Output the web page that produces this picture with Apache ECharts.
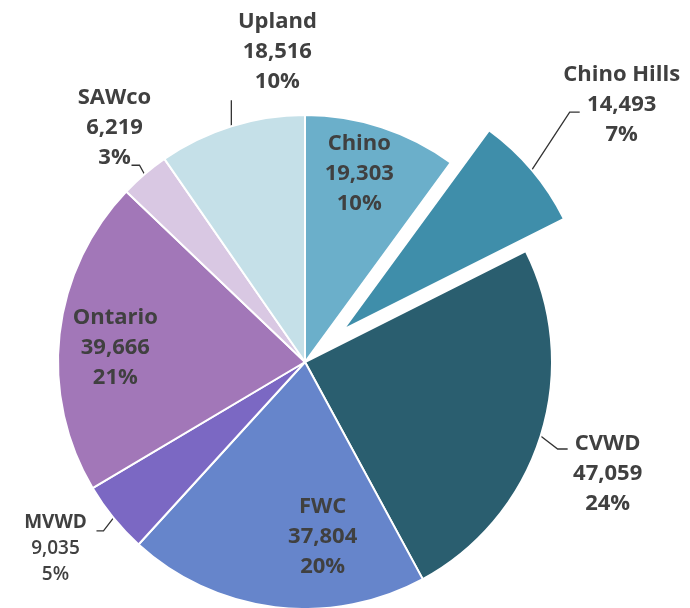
<!DOCTYPE html>
<html>
<head>
<meta charset="utf-8">
<script src="https://cdn.jsdelivr.net/npm/echarts@6/dist/echarts.min.js"></script>
<style>
  html, body { margin: 0; padding: 0; background: #fff; }
  #chart { width: 690px; height: 608px; }
</style>
</head>
<body>
<div id="chart"></div>
<script>
// ---- data ----
const categories = ['Chino', 'Chino Hills', 'CVWD', 'FWC', 'MVWD', 'Ontario', 'SAWco', 'Upland'];
const values = [19303, 14493, 47059, 37804, 9035, 39666, 6219, 18516];
const colors = ['#6BAFCA', '#3F8EAA', '#2A5E6F', '#6685CB', '#7B68C3', '#A277B8', '#D9C8E3', '#C5E0E8'];
const insideLabels = ['Chino', 'FWC', 'Ontario'];
const explodedSlice = 'Chino Hills';
const smallLabel = 'MVWD';

// ---- label placement styling (offsets from library anchors) ----
const labelShift = {
  'Chino':       { dx: 15,  dy: -68 },
  'Chino Hills': { dx: 90,  dy: -65, line: [38, -58, 48] },
  'CVWD':        { dx: 67,  dy: 38,  line: [17, 13, 27] },
  'FWC':         { dx: 33,  dy: 49 },
  'MVWD':        { dx: -58, dy: 31,  line: [-10, 13, -17] },
  'Ontario':     { dx: -64, dy: 0 },
  'SAWco':       { dx: -30, dy: -47, line: [-5, -9, -13] },
  'Upland':      { dx: 46,  dy: -75, line: [0, -26, 0] }
};

const fmtNum = v => v.toLocaleString('en-US');

const data = categories.map((name, i) => {
  const item = {
    name: name,
    value: values[i],
    itemStyle: { color: colors[i] }
  };
  if (insideLabels.includes(name)) {
    item.label = { position: 'inside' };
    item.labelLine = { show: false };
  }
  if (name === explodedSlice) item.selected = true;
  if (name === smallLabel) {
    item.label = {
      formatter: p => '{n|' + p.name + '}\n{v|' + fmtNum(p.value) + '}\n{v|' + p.percent + '%}',
      rich: {
        n: { fontFamily: 'Open Sans', fontSize: 19, fontWeight: 'bold', color: '#404040', lineHeight: 26, align: 'center' },
        v: { fontFamily: 'Open Sans', fontSize: 19, fontWeight: 600, color: '#404040', lineHeight: 26, align: 'center' }
      }
    };
  }
  return item;
});

const chart = echarts.init(document.getElementById('chart'), null, { renderer: 'canvas' });
chart.setOption({
  animation: false,
  backgroundColor: '#ffffff',
  series: [{
    type: 'pie',
    center: [305, 362],
    radius: 247,
    startAngle: 90,
    clockwise: true,
    selectedMode: 'single',
    selectedOffset: 50,
    percentPrecision: 0,
    avoidLabelOverlap: false,
    itemStyle: { borderColor: '#ffffff', borderWidth: 2 },
    label: {
      show: true,
      position: 'outside',
      distanceToLabelLine: 0,
      formatter: p => p.name + '\n' + fmtNum(p.value) + '\n' + p.percent + '%',
      fontFamily: 'Open Sans',
      fontSize: 22,
      fontWeight: 'bold',
      color: '#404040',
      lineHeight: 30,
      align: 'center'
    },
    labelLine: {
      show: true,
      length: 0,
      length2: 0,
      lineStyle: { color: '#333333', width: 1.3 }
    },
    labelLayout: function (p) {
      const name = categories[p.dataIndex];
      const s = labelShift[name];
      const out = { align: 'center', verticalAlign: 'middle', dx: s.dx, dy: s.dy };
      if (s.line && p.labelLinePoints) {
        const p0 = p.labelLinePoints[0];
        out.labelLinePoints = [
          [p0[0], p0[1]],
          [p0[0] + s.line[0], p0[1] + s.line[1]],
          [p0[0] + s.line[2], p0[1] + s.line[1]]
        ];
      }
      return out;
    },
    data: data
  }]
});
</script>
</body>
</html>
